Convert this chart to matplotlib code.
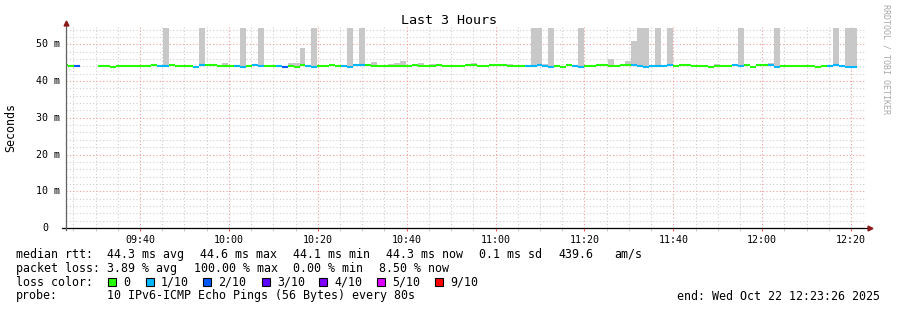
#!/usr/bin/env python
"""plot.py: smokeping style latency chart, last 3 hours"""

import numpy as np
import matplotlib
matplotlib.use("Agg")
import matplotlib.pyplot as plt
import matplotlib.dates as mdates
from matplotlib.patches import Rectangle

W, H = 897, 310
MONO = "DejaVu Sans Mono"

# ---- data -------------------------------------------------------------
first_step = np.datetime64("2025-10-22T09:22:33")
step_seconds = 80
view_start = np.datetime64("2025-10-22T09:23:26")
view_end = np.datetime64("2025-10-22T12:23:26")

nan = float("nan")
median_ms = [
    44.45, 44.2, 44.2, nan, nan, nan, 44.2, 44.2, 43.95, 44.2,
    44.2, 44.2, 44.2, 44.2, 44.2, 44.45, 44.2, 44.2, 44.45, 44.2,
    44.2, 44.2, 43.95, 44.45, 44.45, 44.45, 44.2, 44.2, 44.2, 44.2,
    43.95, 44.2, 44.45, 44.2, 44.2, 44.2, 44.2, 43.95, 44.2, 43.95,
    44.45, 44.2, 43.95, 44.2, 44.2, 44.45, 44.2, 44.2, 43.95, 44.45,
    44.45, 44.45, 44.2, 44.2, 44.2, 44.2, 44.2, 44.2, 44.2, 44.45,
    44.2, 44.2, 44.2, 44.45, 44.2, 44.2, 44.2, 44.2, 44.45, 44.45,
    44.2, 44.2, 44.45, 44.45, 44.45, 44.2, 44.2, 44.2, 44.2, 44.2,
    44.45, 44.2, 43.95, 44.2, 43.95, 44.45, 44.2, 43.95, 44.2, 44.2,
    44.45, 44.45, 44.2, 44.2, 44.45, 44.45, 44.45, 44.2, 43.95, 44.2,
    44.2, 44.2, 44.45, 44.2, 44.45, 44.45, 44.2, 44.2, 44.2, 43.95,
    44.2, 44.2, 44.2, 44.45, 44.2, 44.45, 43.95, 44.45, 44.45, 44.45,
    43.95, 44.2, 44.2, 44.2, 44.2, 44.2, 44.2, 43.95, 44.2, 44.2,
    44.45, 44.2, 43.95, 43.95,
]
# lost pings out of 10 for every step
loss_tenths = [
    0, 0, 2, 10, 10, 10, 0, 0, 0, 0,
    0, 0, 0, 0, 0, 0, 1, 1, 0, 0,
    0, 0, 1, 1, 0, 0, 0, 0, 0, 1,
    1, 0, 1, 1, 0, 0, 1, 2, 0, 0,
    0, 1, 1, 0, 0, 0, 0, 1, 1, 1,
    1, 0, 0, 0, 0, 0, 0, 0, 0, 0,
    0, 0, 0, 0, 0, 0, 0, 0, 0, 0,
    0, 0, 0, 0, 0, 0, 0, 0, 1, 1,
    1, 1, 1, 0, 0, 0, 1, 1, 0, 0,
    0, 0, 0, 0, 0, 0, 1, 1, 1, 1,
    1, 1, 1, 0, 0, 0, 0, 0, 0, 0,
    0, 0, 0, 1, 1, 0, 0, 0, 0, 1,
    1, 0, 0, 0, 0, 0, 0, 0, 0, 1,
    1, 1, 1, 1,
]
# steps whose smoke rises visibly above the median line, and its top
smoke_steps = [17, 23, 27, 30, 33, 38, 39, 40, 42, 48,
               50, 52, 55, 56, 57, 60, 62, 69, 75, 79,
               80, 81, 82, 87, 92, 95, 96, 97, 98, 100,
               102, 110, 114, 119, 120, 130, 132, 133]
smoke_max_ms = [54.35, 54.35, 44.9, 54.35, 54.35, 44.8, 44.8, 48.9, 54.35, 54.35,
                54.35, 45.1, 44.6, 44.8, 45.4, 44.8, 44.6, 44.8, 44.6, 54.35,
                54.35, 44.6, 54.35, 54.35, 45.9, 45.4, 50.8, 54.35, 54.35, 54.35,
                54.35, 44.6, 54.35, 44.8, 54.35, 54.35, 54.35, 54.35]
smoke_floor_ms = 44.0

loss_colors = {0: "#26ff00", 1: "#00b8ff", 2: "#0059ff", 3: "#5e00ff",
               4: "#7e00ff", 5: "#dd00ff", 9: "#ff0000", 10: "#ff0000"}
legend_levels = [0, 1, 2, 3, 4, 5, 9]
legend_names = ["0", "1/10", "2/10", "3/10", "4/10", "5/10", "9/10"]

y_ticks = [0, 10, 20, 30, 40, 50]
y_labels = ["0", "10 m", "20 m", "30 m", "40 m", "50 m"]

rtt_line = [("median rtt:", 16), ("44.3 ms avg", 107), ("44.6 ms max", 200),
            ("44.1 ms min", 293), ("44.3 ms now", 386), ("0.1 ms sd", 479),
            ("439.6", 558), ("am/s", 614)]
loss_line = [("packet loss:", 16), ("3.89 % avg", 107), ("100.00 % max", 194),
             ("0.00 % min", 293), ("8.50 % now", 379)]


def px(x, y):
    """pixel position (from top left) to figure fraction"""
    return x / W, 1 - y / H


# ---- figure -----------------------------------------------------------
fig = plt.figure(figsize=(W / 100, H / 100), dpi=100)
ax = fig.add_axes([66.4 / W, (H - 228) / H, 800 / W, 200.6 / H])

n = len(median_ms)
t0 = first_step + np.arange(n) * np.timedelta64(step_seconds, "s")
x0 = mdates.date2num(t0)
dx = step_seconds / 86400.0
med = np.array(median_ms)
loss = np.array(loss_tenths)

# smoke
sidx = np.array(smoke_steps)
ax.bar(x0[sidx], np.array(smoke_max_ms) - smoke_floor_ms, width=dx,
       bottom=smoke_floor_ms, align="edge", color="#c8c8c8",
       linewidth=0, zorder=2)

# median coloured by loss
ok = np.isfinite(med)
ax.hlines(med[ok], x0[ok], x0[ok] + dx,
          colors=[loss_colors[v] for v in loss[ok]],
          linewidth=1.5, capstyle="butt", zorder=3)

ax.set_xlim(mdates.date2num(view_start), mdates.date2num(view_end))
ax.set_ylim(0, 54.6)

# grid
ax.xaxis.set_major_locator(mdates.MinuteLocator(byminute=[0, 20, 40]))
ax.xaxis.set_minor_locator(mdates.MinuteLocator(byminute=range(0, 60, 5)))
ax.xaxis.set_major_formatter(mdates.DateFormatter("%H:%M"))
ax.set_yticks(y_ticks)
ax.set_yticks(np.arange(0, 55, 2), minor=True)
ax.grid(which="minor", color="#cfcfcf", linestyle=(0, (1, 2)), linewidth=0.8, zorder=0)
ax.grid(which="major", color="#f19a9a", linestyle=(0, (1, 2)), linewidth=0.8, zorder=1)
ax.set_axisbelow(True)

for s in ax.spines.values():
    s.set_visible(False)
ax.tick_params(axis="y", which="both", length=0, labelleft=False)
ax.tick_params(axis="x", which="major", length=2, color="#ff6060", pad=3,
               labelsize=7.2)
ax.tick_params(axis="x", which="minor", length=2, color="#c0c0c0")
for lab in ax.get_xticklabels():
    lab.set_family(MONO)

# y labels, monospace, "0" aligned with the digits of "50 m"
for v, lab in zip(y_ticks, y_labels):
    off = -6 if lab != "0" else -18
    ax.annotate(lab, xy=(0, v), xycoords=ax.get_yaxis_transform(),
                xytext=(off, 0), textcoords="offset pixels",
                ha="right", va="center", family=MONO, fontsize=7.2)

# axes with arrows
ax.plot([-4.4 / 800, 1.004], [0, 0], color="black", linewidth=0.9,
        transform=ax.transAxes, clip_on=False, zorder=5)
ax.plot([0, 0], [-2 / 200.6, 1.01], color="#606060", linewidth=0.9,
        transform=ax.transAxes, clip_on=False, zorder=5)
ax.plot([1.005], [0], marker=">", markersize=3.5, color="#8b1a1a",
        transform=ax.transAxes, clip_on=False, zorder=6)
ax.plot([0], [1.02], marker="^", markersize=3.5, color="#8b1a1a",
        transform=ax.transAxes, clip_on=False, zorder=6)

# titles
fig.text(*px(448.5, 20), "Last 3 Hours", ha="center", va="center",
         family=MONO, fontsize=9.6)
fig.text(*px(11, 127), "Seconds", ha="center", va="center", rotation=90,
         family=MONO, fontsize=8.4)
fig.text(*px(886, 4), "RRDTOOL / TOBI OETIKER", ha="center", va="top",
         rotation=270, family=MONO, fontsize=6, color="#a8a8a8")

# legend
for txt, x in rtt_line:
    fig.text(*px(x, 254.3), txt, ha="left", va="center", family=MONO, fontsize=8.4)
for txt, x in loss_line:
    fig.text(*px(x, 268.3), txt, ha="left", va="center", family=MONO, fontsize=8.4)
fig.text(*px(16, 282.3), "loss color:", ha="left", va="center", family=MONO, fontsize=8.4)
box_x = [108, 146, 203, 262, 319, 377, 435]
for bx, lvl, name in zip(box_x, legend_levels, legend_names):
    fig.add_artist(Rectangle(px(bx, 286), 8 / W, 8 / H, transform=fig.transFigure,
                             facecolor=loss_colors[lvl], edgecolor="black",
                             linewidth=0.8))
    fig.text(*px(bx + 15, 282.3), name, ha="left", va="center", family=MONO,
             fontsize=8.4)
fig.text(*px(16, 296), "probe:", ha="left", va="center", family=MONO, fontsize=8.4)
fig.text(*px(107, 296), "10 IPv6-ICMP Echo Pings (56 Bytes) every 80s",
         ha="left", va="center", family=MONO, fontsize=8.4)
fig.text(*px(880, 296), "end: Wed Oct 22 12:23:26 2025", ha="right",
         va="center", family=MONO, fontsize=8.4)

fig.savefig("out.png", dpi=100)
